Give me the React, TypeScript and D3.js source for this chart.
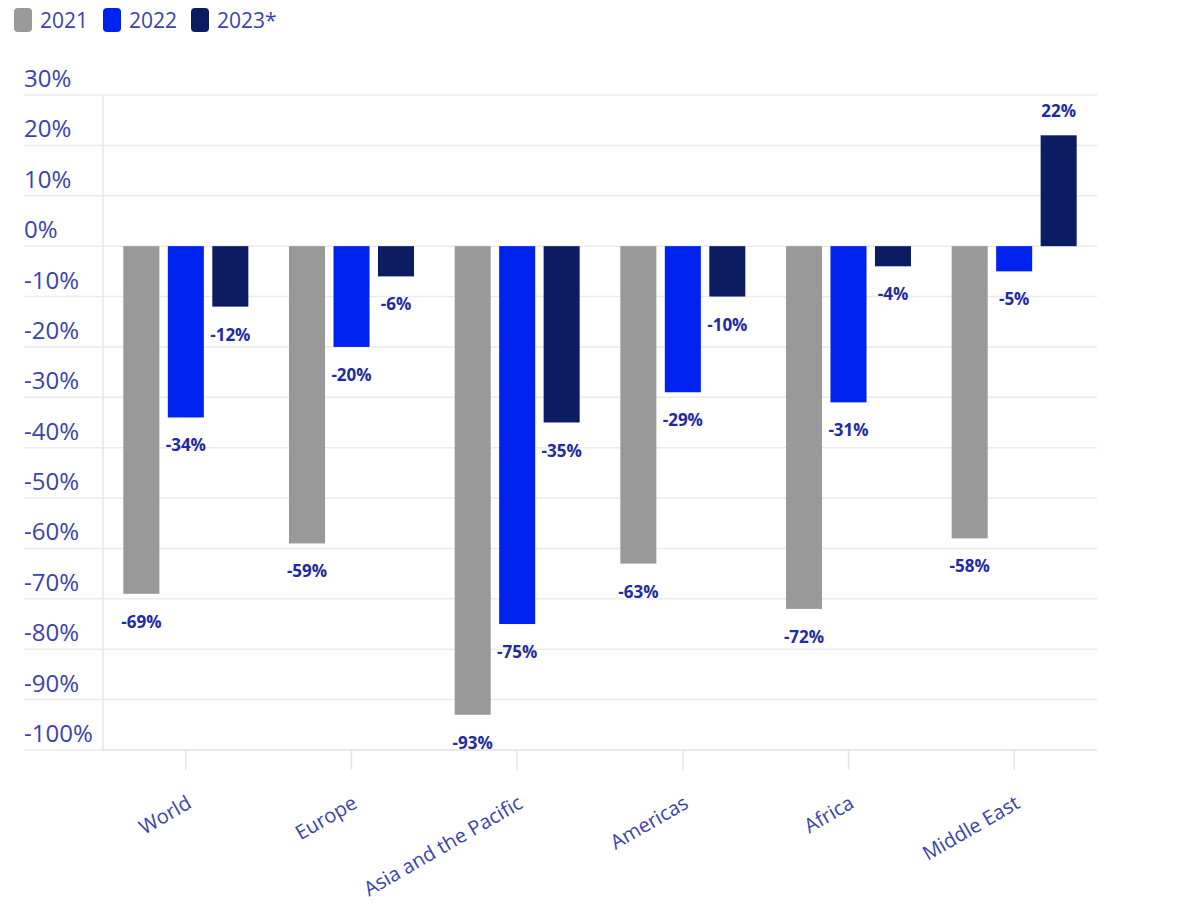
import React, { useEffect, useRef } from 'react';
import * as d3 from 'd3';

const regions = ['World', 'Europe', 'Asia and the Pacific', 'Americas', 'Africa', 'Middle East'];
const seriesNames = ['2021', '2022', '2023*'];
const values2021 = [-69, -59, -93, -63, -72, -58];
const values2022 = [-34, -20, -75, -29, -31, -5];
const values2023 = [-12, -6, -35, -10, -4, 22];
const yTicks = [30, 20, 10, 0, -10, -20, -30, -40, -50, -60, -70, -80, -90, -100];
const colors = ['#999999', '#0022ee', '#0c1c62'];

const FONT = '"Open Sans", sans-serif';

export default function App() {
  const ref = useRef<SVGSVGElement>(null);

  useEffect(() => {
    if (!ref.current) return;
    const svg = d3.select(ref.current);
    svg.selectAll('*').remove();

    const left = 103;
    const right = 1097;
    const y = d3.scaleLinear().domain([-100, 30]).range([750, 95]);
    const x0 = d3.scaleBand<string>().domain(regions).range([left, right]);
    const groupW = 125;
    const x1 = d3.scaleBand<string>().domain(seriesNames).range([0, groupW]).paddingInner(0.19);
    const series = [values2021, values2022, values2023];

    // gridlines
    svg.append('g')
      .selectAll('line')
      .data(yTicks)
      .join('line')
      .attr('x1', 24)
      .attr('x2', right)
      .attr('y1', d => y(d))
      .attr('y2', d => y(d))
      .attr('stroke', '#ebebeb')
      .attr('stroke-width', 1.5);

    // y tick labels
    svg.append('g')
      .selectAll('text')
      .data(yTicks)
      .join('text')
      .attr('x', 24)
      .attr('y', d => y(d) - 8)
      .attr('font-family', FONT)
      .attr('font-size', 24)
      .attr('fill', '#3a43b0')
      .text(d => `${d}%`);

    // axis lines
    svg.append('line')
      .attr('x1', left).attr('x2', left)
      .attr('y1', y(30)).attr('y2', y(-100))
      .attr('stroke', '#e6e6e6').attr('stroke-width', 1.5);
    svg.append('line')
      .attr('x1', left).attr('x2', right)
      .attr('y1', y(-100)).attr('y2', y(-100))
      .attr('stroke', '#e6e6e6').attr('stroke-width', 1.5);

    // x ticks
    svg.append('g')
      .selectAll('line')
      .data(regions)
      .join('line')
      .attr('x1', d => x0(d)! + x0.bandwidth() / 2)
      .attr('x2', d => x0(d)! + x0.bandwidth() / 2)
      .attr('y1', y(-100))
      .attr('y2', y(-100) + 20)
      .attr('stroke', '#e6e6e6')
      .attr('stroke-width', 1.5);

    // x labels
    svg.append('g')
      .selectAll('text')
      .data(regions)
      .join('text')
      .attr('transform', d => `translate(${x0(d)! + x0.bandwidth() / 2 + 7},${807}) rotate(-30)`)
      .attr('text-anchor', 'end')
      .attr('font-family', FONT)
      .attr('font-size', 20)
      .attr('fill', '#3a43b0')
      .text(d => d);

    // bars
    const offset = (x0.bandwidth() - groupW) / 2;
    series.forEach((vals, si) => {
      const g = svg.append('g');
      g.selectAll('rect')
        .data(vals)
        .join('rect')
        .attr('x', (_, i) => x0(regions[i])! + offset + x1(seriesNames[si])!)
        .attr('width', x1.bandwidth())
        .attr('y', d => Math.min(y(d), y(0)))
        .attr('height', d => Math.abs(y(d) - y(0)))
        .attr('fill', colors[si]);
      g.selectAll('text')
        .data(vals)
        .join('text')
        .attr('x', (_, i) => x0(regions[i])! + offset + x1(seriesNames[si])! + x1.bandwidth() / 2)
        .attr('y', d => (d < 0 ? y(d) + 34 : y(d) - 18))
        .attr('text-anchor', 'middle')
        .attr('font-family', FONT)
        .attr('font-size', 17)
        .attr('font-weight', 700)
        .attr('fill', '#1f2aa5')
        .text(d => `${d}%`);
    });

    // legend
    const legendX = [14, 103, 191];
    const lg = svg.append('g');
    seriesNames.forEach((s, i) => {
      lg.append('rect')
        .attr('x', legendX[i])
        .attr('y', 8)
        .attr('width', 18)
        .attr('height', 24)
        .attr('rx', 4)
        .attr('fill', colors[i]);
      lg.append('text')
        .attr('x', legendX[i] + 26)
        .attr('y', 28)
        .attr('font-family', FONT)
        .attr('font-size', 21)
        .attr('fill', '#3a43b0')
        .text(s);
    });
  }, []);

  return (
    <svg
      ref={ref}
      width={1200}
      height={918}
      style={{ position: 'absolute', left: 0, top: 0, background: '#fff' }}
    />
  );
}
